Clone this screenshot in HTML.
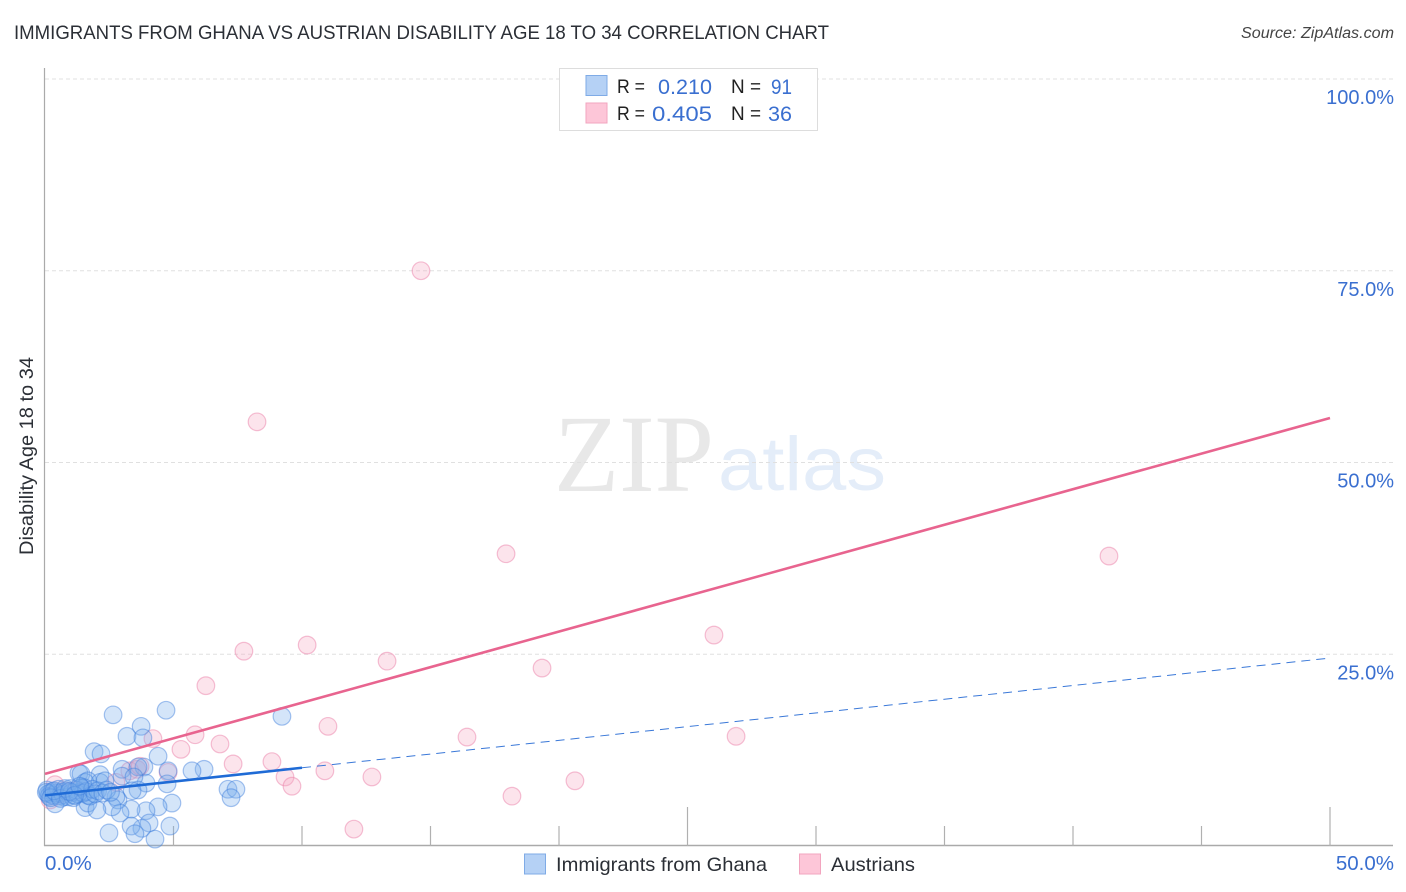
<!DOCTYPE html>
<html>
<head>
<meta charset="utf-8">
<style>
html,body{margin:0;padding:0;background:#fff;}
svg{display:block;font-family:"Liberation Sans",sans-serif;}
</style>
</head>
<body>
<svg id="chart" width="1406" height="892" viewBox="0 0 1406 892" xmlns="http://www.w3.org/2000/svg">
  <rect width="1406" height="892" fill="#fff"/>
  <text x="14" y="39" font-size="19" fill="#2b2f36" textLength="815" lengthAdjust="spacingAndGlyphs">IMMIGRANTS FROM GHANA VS AUSTRIAN DISABILITY AGE 18 TO 34 CORRELATION CHART</text>
  <text x="1241" y="38" font-size="15.5" font-style="italic" fill="#444" textLength="153" lengthAdjust="spacingAndGlyphs">Source: ZipAtlas.com</text>
  <g>
    <text x="554" y="491" font-family="'Liberation Serif',serif" font-size="110" fill="#e8e8e8" textLength="160" lengthAdjust="spacingAndGlyphs">ZIP</text>
    <text x="718" y="490" font-size="76" fill="#e4edf9" textLength="168" lengthAdjust="spacingAndGlyphs">atlas</text>
  </g>
  <g id="grid"></g>
  <g id="axes"></g>
  <g id="pink-points"></g>
  <g id="blue-points"></g>
  <g id="trends"></g>
  <g id="labels"></g>
  <text transform="translate(33,555) rotate(-90)" font-size="19.5" fill="#2b2f36" textLength="198" lengthAdjust="spacingAndGlyphs">Disability Age 18 to 34</text>

  <g>
    <rect x="559.5" y="68.5" width="258" height="62" fill="#fff" stroke="#ddd"/>
    <rect x="586" y="75.5" width="21" height="20" fill="#b5d1f5" stroke="#7fabe6"/>
    <rect x="586" y="103" width="21" height="20" fill="#fdc6d8" stroke="#f2a5bf"/>
    <g font-size="19.5" fill="#222">
      <text x="617" y="93" textLength="28" lengthAdjust="spacingAndGlyphs">R =</text>
      <text x="731" y="93" textLength="30" lengthAdjust="spacingAndGlyphs">N =</text>
      <text x="617" y="120" textLength="28" lengthAdjust="spacingAndGlyphs">R =</text>
      <text x="731" y="120" textLength="30" lengthAdjust="spacingAndGlyphs">N =</text>
    </g>
    <g font-size="21.5" fill="#3a6fd0">
      <text x="658" y="94" textLength="54" lengthAdjust="spacingAndGlyphs">0.210</text>
      <text x="771" y="94" textLength="21" lengthAdjust="spacingAndGlyphs">91</text>
      <text x="652" y="121" textLength="60" lengthAdjust="spacingAndGlyphs">0.405</text>
      <text x="768" y="121" textLength="24" lengthAdjust="spacingAndGlyphs">36</text>
    </g>
  </g>

  <g>
    <rect x="524.5" y="854" width="21" height="20" fill="#b5d1f5" stroke="#7fabe6"/>
    <text x="556" y="871" font-size="19.5" fill="#2b2f36" textLength="211" lengthAdjust="spacingAndGlyphs">Immigrants from Ghana</text>
    <rect x="799.5" y="854" width="21" height="20" fill="#fdc6d8" stroke="#f2a5bf"/>
    <text x="831" y="871" font-size="19.5" fill="#2b2f36" textLength="84" lengthAdjust="spacingAndGlyphs">Austrians</text>
  </g>
</svg>
<script>
const yTickValues = [25, 50, 75, 100];
const yTickLabels = ["25.0%", "50.0%", "75.0%", "100.0%"];
const xTickValues = [5, 10, 15, 20, 25, 30, 35, 40, 45, 50];
const xMajorTicks = [25, 50];
const xEndValues = [0, 50];
const xEndLabels = ["0.0%", "50.0%"];

const ghanaX = [2.65,4.71,3.74,9.22,3.19,3.81,1.91,2.18,4.40,6.19,5.72,1.32,1.40,2.14,3.00,3.00,3.85,3.62,4.79,4.75,3.93,3.46,3.62,3.39,7.12,7.43,7.24,4.94,4.40,3.93,4.05,3.77,3.35,3.35,3.50,2.49,4.86,4.28,1.56,1.67,1.52,2.14,2.33,2.84,2.76,2.92,2.61,1.56,1.67,2.02,1.67,1.17,1.32,0.74,0.39,0.19,0.08,0.12,0.16,0.28,0.31,0.45,0.52,0.58,0.66,0.70,0.82,0.90,0.98,1.05,1.10,1.22,1.28,1.40,1.48,1.60,1.75,1.85,1.95,2.05,2.25,2.40,0.05,0.22,0.35,0.60,0.78,0.95,1.15,1.35,2.55];
const ghanaY = [17.1,17.7,15.6,16.9,14.3,14.1,12.3,12.0,11.7,10.0,9.8,9.5,9.4,9.3,10.0,9.1,10.3,10.3,9.8,8.1,8.2,9.0,7.3,7.2,7.4,7.4,6.3,5.6,5.1,4.6,3.0,2.3,4.8,2.6,1.6,1.7,2.6,0.9,8.3,8.5,7.6,8.3,8.5,6.0,6.4,4.3,5.1,5.0,5.6,4.7,6.6,6.6,7.0,6.4,5.5,6.9,7.3,6.8,6.5,7.1,6.6,6.9,7.4,6.5,7.0,6.7,7.2,6.4,7.5,7.0,6.3,7.3,6.8,7.6,6.9,7.1,6.5,7.4,6.8,7.2,6.9,7.3,7.0,6.3,7.2,6.2,7.5,7.1,6.6,7.8,7.0];

const austriansX = [14.63,8.25,17.94,41.40,10.20,26.03,7.74,13.31,19.34,6.26,11.01,16.42,5.84,4.20,26.89,6.81,5.29,8.83,7.32,10.89,4.79,9.34,9.61,12.72,18.17,20.62,12.02,3.58,2.76,0.39,0.78,3.30,0.58,1.17,3.70,0.20];
const austriansY = [75.0,55.3,38.1,37.8,26.2,27.5,25.4,24.1,23.2,20.9,15.6,14.2,14.5,14.0,14.3,13.3,12.6,11.0,10.7,9.8,9.6,9.0,7.8,9.0,6.5,8.5,2.2,10.0,8.3,8.0,7.2,9.8,6.8,7.2,10.4,6.0];

const ghanaTrendStart = [0, 6.6];
const ghanaTrendSolidEnd = [10, 10.2];
const ghanaTrendEnd = [50, 24.5];
const austriansTrendStart = [0, 9.4];
const austriansTrendEnd = [50, 55.8];

const xScale = v => 45 + v * 25.7;
const yScale = v => 846 - v * 7.67;
const NS = "http://www.w3.org/2000/svg";

function make(parent, tag, attrs) {
  const el = document.createElementNS(NS, tag);
  for (const k in attrs) el.setAttribute(k, attrs[k]);
  document.getElementById(parent).appendChild(el);
  return el;
}

yTickValues.forEach((v, i) => {
  const g = make("grid", "line", {x1: 45, x2: 1393, y1: yScale(v), y2: yScale(v), stroke: "#e0e0e0", "stroke-width": 1, "stroke-dasharray": "4 3"});
  
  
  const t = make("labels", "text", {x: 1394, y: yScale(v) + 25, "font-size": 20, fill: "#3a6fd0", "text-anchor": "end"});
  t.textContent = yTickLabels[i];
  
  
});

const leftAxis = make("axes", "line", {x1: 44.5, x2: 44.5, y1: 68, y2: 846, stroke: "#aaa", "stroke-width": 1.2});


const bottomAxis = make("axes", "line", {x1: 44, x2: 1393, y1: 845.5, y2: 845.5, stroke: "#aaa", "stroke-width": 1.4});



xTickValues.forEach(v => {
  const top = xMajorTicks.includes(v) ? 807 : 826;
  const t = make("axes", "line", {x1: xScale(v), x2: xScale(v), y1: top, y2: 846, stroke: "#b0b0b0", "stroke-width": 1.2});
  
  
});

xEndValues.forEach((v, i) => {
  const t = make("labels", "text", {x: i === 0 ? xScale(v) : 1394, y: 870, "font-size": 20.5, fill: "#3a6fd0", "text-anchor": i === 0 ? "start" : "end"});
  t.textContent = xEndLabels[i];
  
  
});

austriansX.forEach((x, i) => {
  const c = make("pink-points", "circle", {cx: xScale(x), cy: yScale(austriansY[i]), r: 8.8, fill: "rgba(247,170,195,0.32)", stroke: "rgba(236,130,170,0.5)", "stroke-width": 1.2});
  
  
});

ghanaX.forEach((x, i) => {
  const c = make("blue-points", "circle", {cx: xScale(x), cy: yScale(ghanaY[i]), r: 8.8, fill: "rgba(125,175,238,0.33)", stroke: "rgba(60,125,220,0.45)", "stroke-width": 1.2});
  
  
});

const gd = make("trends", "line", {x1: xScale(ghanaTrendSolidEnd[0]), y1: yScale(ghanaTrendSolidEnd[1]), x2: xScale(ghanaTrendEnd[0]), y2: yScale(ghanaTrendEnd[1]), stroke: "#3a78d8", "stroke-width": 1, "stroke-dasharray": "9 6"});


const gs = make("trends", "line", {x1: xScale(ghanaTrendStart[0]), y1: yScale(ghanaTrendStart[1]), x2: xScale(ghanaTrendSolidEnd[0]), y2: yScale(ghanaTrendSolidEnd[1]), stroke: "#1f6bd6", "stroke-width": 2.6});


const at = make("trends", "line", {x1: xScale(austriansTrendStart[0]), y1: yScale(austriansTrendStart[1]), x2: xScale(austriansTrendEnd[0]), y2: yScale(austriansTrendEnd[1]), stroke: "#e8648f", "stroke-width": 2.6});


</script>
</body>
</html>
